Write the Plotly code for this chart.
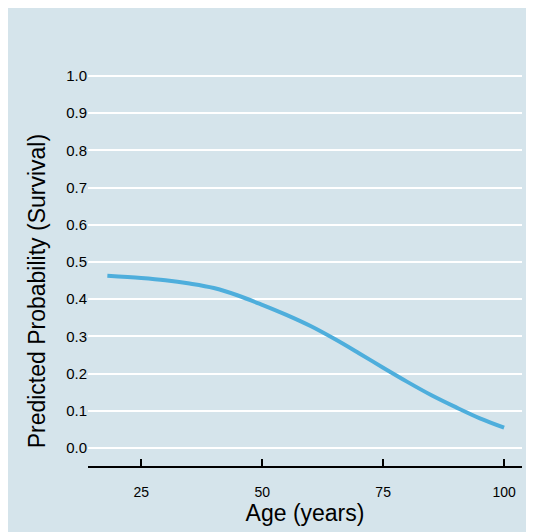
import plotly.graph_objects as go

age = [18, 25, 30, 35, 40, 45, 50, 55, 60, 65, 70, 75, 80, 85, 90, 95, 100]
prob = [0.463, 0.457, 0.451, 0.442, 0.430, 0.410, 0.385, 0.358, 0.328, 0.293, 0.255, 0.216, 0.178, 0.142, 0.110, 0.080, 0.055]
yticks = [0.0, 0.1, 0.2, 0.3, 0.4, 0.5, 0.6, 0.7, 0.8, 0.9, 1.0]
xticks = [25, 50, 75, 100]

fig = go.Figure()
fig.add_trace(go.Scatter(x=age, y=prob, mode="lines", line=dict(color="#4eaedc", width=4, shape="spline")))

# page body adds 8px offset; plot area target x 88..522, y(1.0)=76, axis=466
fig.update_layout(
    width=524, height=532,
    paper_bgcolor="#d5e4eb", plot_bgcolor="#d5e4eb",
    margin=dict(l=80, r=10, t=66, b=74),
    showlegend=False,
    font=dict(family="Liberation Sans, Arial", color="black"),
    annotations=[dict(text="Predicted Probability (Survival)", xref="paper", yref="paper",
                      x=-0.118, y=0.445, textangle=-90, showarrow=False,
                      font=dict(size=23), xanchor="center", yanchor="middle")],
)
fig.update_xaxes(range=[14, 103.7], tickvals=xticks, showgrid=False, zeroline=False, automargin=False,
                 showline=True, linecolor="black", linewidth=2, ticks="inside", ticklen=7,
                 tickcolor="black", tickwidth=2, tickfont=dict(size=14), ticklabelstandoff=12,
                 title=dict(text="Age (years)", font=dict(size=23), standoff=0))
fig.update_yaxes(range=[-0.048, 1.005], tickvals=yticks, tickformat=".1f", showgrid=True, automargin=False,
                 gridcolor="white", gridwidth=2, zeroline=False, showline=False,
                 tickfont=dict(size=15), ticks="")
fig.write_html("out.html")
